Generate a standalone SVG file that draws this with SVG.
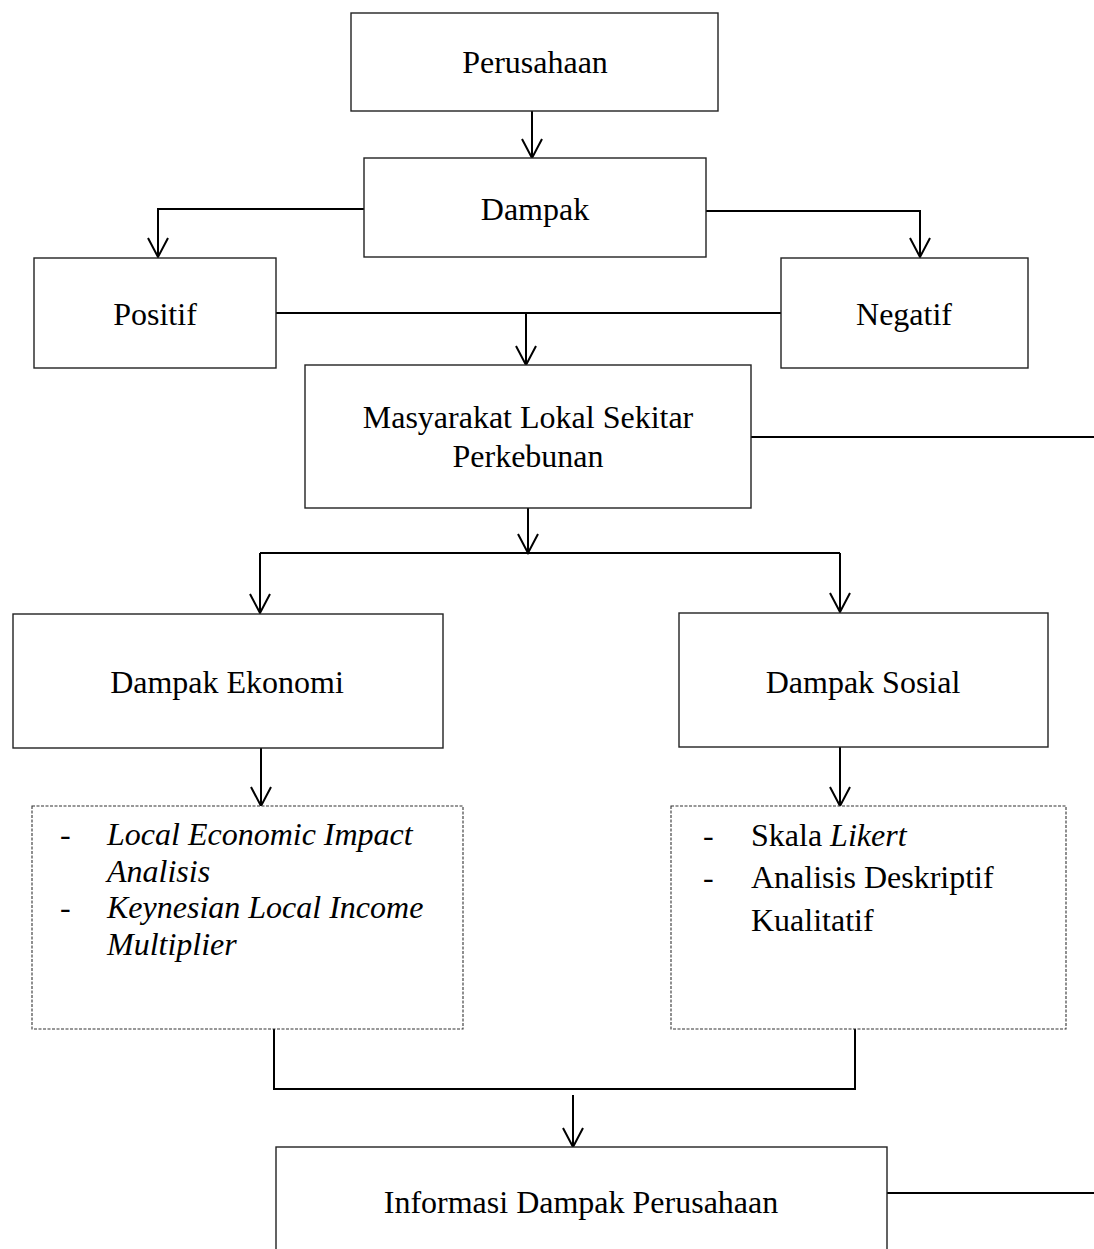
<svg xmlns="http://www.w3.org/2000/svg" width="1094" height="1249" viewBox="0 0 1094 1249">
  <style>
    .box { fill: #ffffff; stroke: #222222; stroke-width: 1.4; }
    .dbox { fill: #ffffff; stroke: #333333; stroke-width: 1.1; stroke-dasharray: 3 1.5; }
    .conn { fill: none; stroke: #000000; stroke-width: 2; }
    .t { font-family: "Liberation Serif", "Times New Roman", serif; font-size: 32px; fill: #000000; }
    .c { text-anchor: middle; }
    .i { font-style: italic; }
  </style>
  <defs>
    <marker id="arr" viewBox="0 0 22 22" refX="20" refY="11" markerWidth="22" markerHeight="22" markerUnits="userSpaceOnUse" orient="auto">
      <path d="M1,1 L20,11 L1,21" fill="none" stroke="#000000" stroke-width="2"/>
    </marker>
  </defs>
  <rect width="1094" height="1249" fill="#ffffff"/>

  <g id="connectors">
    <line class="conn" x1="532" y1="111" x2="532" y2="158" marker-end="url(#arr)"/>
    <polyline class="conn" points="364,209 158,209 158,257" marker-end="url(#arr)"/>
    <polyline class="conn" points="706,211 920,211 920,257" marker-end="url(#arr)"/>
    <line class="conn" x1="276" y1="313" x2="781" y2="313"/>
    <line class="conn" x1="526" y1="313" x2="526" y2="365" marker-end="url(#arr)"/>
    <line class="conn" x1="751" y1="437" x2="1094" y2="437"/>
    <line class="conn" x1="528" y1="508" x2="528" y2="553" marker-end="url(#arr)"/>
    <line class="conn" x1="260" y1="553" x2="840" y2="553"/>
    <line class="conn" x1="260" y1="553" x2="260" y2="613" marker-end="url(#arr)"/>
    <line class="conn" x1="840" y1="553" x2="840" y2="612" marker-end="url(#arr)"/>
    <line class="conn" x1="261" y1="743" x2="261" y2="806" marker-end="url(#arr)"/>
    <line class="conn" x1="840" y1="743" x2="840" y2="806" marker-end="url(#arr)"/>
    <polyline class="conn" points="274,1029 274,1089 855,1089 855,1029"/>
    <line class="conn" x1="573" y1="1095" x2="573" y2="1147" marker-end="url(#arr)"/>
    <line class="conn" x1="887" y1="1193" x2="1094" y2="1193"/>
  </g>

  <g id="perusahaan">
    <rect class="box" x="351" y="13" width="367" height="98"/>
    <text class="t c" x="535" y="73">Perusahaan</text>
  </g>

  <g id="dampak">
    <rect class="box" x="364" y="158" width="342" height="99"/>
    <text class="t c" x="535" y="220">Dampak</text>
  </g>

  <g id="positif">
    <rect class="box" x="34" y="258" width="242" height="110"/>
    <text class="t c" x="155" y="325">Positif</text>
  </g>

  <g id="negatif">
    <rect class="box" x="781" y="258" width="247" height="110"/>
    <text class="t c" x="904" y="325">Negatif</text>
  </g>

  <g id="masyarakat">
    <rect class="box" x="305" y="365" width="446" height="143"/>
    <text class="t c" x="528" y="428">Masyarakat Lokal Sekitar</text>
    <text class="t c" x="528" y="467">Perkebunan</text>
  </g>

  <g id="dampak-ekonomi">
    <rect class="box" x="13" y="614" width="430" height="134"/>
    <text class="t c" x="227" y="693">Dampak Ekonomi</text>
  </g>

  <g id="dampak-sosial">
    <rect class="box" x="679" y="613" width="369" height="134"/>
    <text class="t c" x="863" y="693">Dampak Sosial</text>
  </g>

  <g id="metode-ekonomi">
    <rect class="dbox" x="32" y="806" width="431" height="223"/>
    <text class="t" x="60" y="845">-</text>
    <text class="t i" x="107" y="845">Local Economic Impact</text>
    <text class="t i" x="107" y="882">Analisis</text>
    <text class="t" x="60" y="918">-</text>
    <text class="t i" x="107" y="918">Keynesian Local Income</text>
    <text class="t i" x="107" y="955">Multiplier</text>
  </g>

  <g id="metode-sosial">
    <rect class="dbox" x="671" y="806" width="395" height="223"/>
    <text class="t" x="703" y="846">-</text>
    <text class="t" x="751" y="846">Skala <tspan class="i">Likert</tspan></text>
    <text class="t" x="703" y="888">-</text>
    <text class="t" x="751" y="888">Analisis Deskriptif</text>
    <text class="t" x="751" y="931">Kualitatif</text>
  </g>

  <g id="informasi">
    <rect class="box" x="276" y="1147" width="611" height="120"/>
    <text class="t c" x="581" y="1213">Informasi Dampak Perusahaan</text>
  </g>
</svg>
